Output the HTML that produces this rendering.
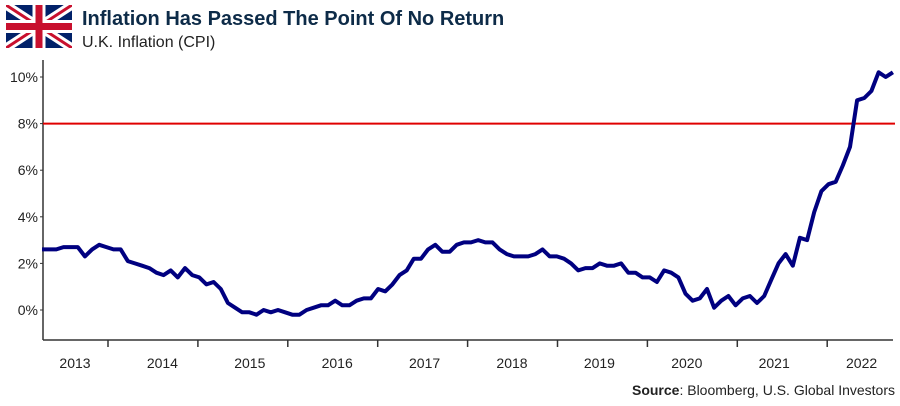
<!DOCTYPE html>
<html><head><meta charset="utf-8"><style>
body{margin:0;background:#fff;width:900px;height:401px;overflow:hidden;font-family:"Liberation Sans",sans-serif}
</style></head><body>
<svg width="900" height="401" viewBox="0 0 900 401">
 <g>
  <clipPath id="fc"><rect x="6" y="5" width="66" height="43"/></clipPath>
  <g clip-path="url(#fc)">
   <rect x="6" y="5" width="66" height="43" fill="#012169"/>
   <path d="M6,5L72,48M72,5L6,48" stroke="#fff" stroke-width="9"/>
   <path d="M6,5L72,48M72,5L6,48" stroke="#C8102E" stroke-width="3"/>
   <path d="M39,5V48M6,26.5H72" stroke="#fff" stroke-width="13"/>
   <path d="M39,5V48M6,26.5H72" stroke="#C8102E" stroke-width="7"/>
  </g>
 </g>
 <text x="82" y="25" font-size="20" font-weight="bold" fill="#0d2b48">Inflation Has Passed The Point Of No Return</text>
 <text x="82" y="47" font-size="16" fill="#222">U.K. Inflation (CPI)</text>
 <g id="yaxis"></g>
 <g id="xaxis"></g>
 <line x1="43" y1="123.6" x2="895" y2="123.6" stroke="#e00000" stroke-width="2"/>
 <path id="series" fill="none" stroke="#000080" stroke-width="4" stroke-linejoin="round"/>
 <text x="895" y="395" font-size="14" text-anchor="end" fill="#222"><tspan font-weight="bold">Source</tspan>: Bloomberg, U.S. Global Investors</text>
</svg>
<script>
const yTicks=[0,2,4,6,8,10];
const yearLabels=["2013","2014","2015","2016","2017","2018","2019","2020","2021","2022"];
const cpi=[2.6,2.6,2.6,2.7,2.7,2.7,2.3,2.6,2.8,2.7,2.6,2.6,2.1,2.0,1.9,1.8,1.6,1.5,1.7,1.4,1.8,1.5,1.4,1.1,1.2,0.9,0.3,0.1,-0.1,-0.1,-0.2,0.0,-0.1,0.0,-0.1,-0.2,-0.2,0.0,0.1,0.2,0.2,0.4,0.2,0.2,0.4,0.5,0.5,0.9,0.8,1.1,1.5,1.7,2.2,2.2,2.6,2.8,2.5,2.5,2.8,2.9,2.9,3.0,2.9,2.9,2.6,2.4,2.3,2.3,2.3,2.4,2.6,2.3,2.3,2.2,2.0,1.7,1.8,1.8,2.0,1.9,1.9,2.0,1.6,1.6,1.4,1.4,1.2,1.7,1.6,1.4,0.7,0.4,0.5,0.9,0.1,0.4,0.6,0.2,0.5,0.6,0.3,0.6,1.3,2.0,2.4,1.9,3.1,3.0,4.2,5.1,5.4,5.5,6.2,7.0,9.0,9.1,9.4,10.2,10.0,10.2];
const ns="http://www.w3.org/2000/svg";
const X0=42,STEP=7.15;
function xs(i){return X0+i*STEP;}
function ys(v){return 310-v*23.3;}
const ya=document.getElementById('yaxis'),xa=document.getElementById('xaxis');
let l=document.createElementNS(ns,'line');
l.setAttribute('x1',43);l.setAttribute('x2',43);l.setAttribute('y1',60);l.setAttribute('y2',340);l.setAttribute('stroke','#333');l.setAttribute('stroke-width','1.5');


ya.appendChild(l);
yTicks.forEach(v=>{
 const t=document.createElementNS(ns,'text');
 t.setAttribute('x',38);t.setAttribute('y',ys(v)+5);t.setAttribute('font-size','14');t.setAttribute('text-anchor','end');t.setAttribute('fill','#222');
 t.textContent=v+'%';
 
 
 ya.appendChild(t);
 const k=document.createElementNS(ns,'line');
 k.setAttribute('x1',40);k.setAttribute('x2',43);k.setAttribute('y1',ys(v));k.setAttribute('y2',ys(v));k.setAttribute('stroke','#333');
 
 
 ya.appendChild(k);
});
l=document.createElementNS(ns,'line');
l.setAttribute('x1',43);l.setAttribute('x2',893);l.setAttribute('y1',340);l.setAttribute('y2',340);l.setAttribute('stroke','#333');l.setAttribute('stroke-width','1.5');


xa.appendChild(l);
yearLabels.forEach((y,i)=>{
 const tx=108+i*89.9;
 if(i<9){
  const k=document.createElementNS(ns,'line');
  k.setAttribute('x1',tx);k.setAttribute('x2',tx);k.setAttribute('y1',340);k.setAttribute('y2',347);k.setAttribute('stroke','#333');k.setAttribute('stroke-width','1.5');
  
  
  xa.appendChild(k);
 }
 const t=document.createElementNS(ns,'text');
 t.setAttribute('x',75+i*87.4);t.setAttribute('y',368);t.setAttribute('font-size','14');t.setAttribute('text-anchor','middle');t.setAttribute('fill','#222');
 t.textContent=y;
 
 
 xa.appendChild(t);
});
let d='';
cpi.forEach((v,i)=>{d+=(i?'L':'M')+xs(i).toFixed(1)+','+ys(v).toFixed(1);});
document.getElementById('series').setAttribute('d',d);
</script>
</body></html>
